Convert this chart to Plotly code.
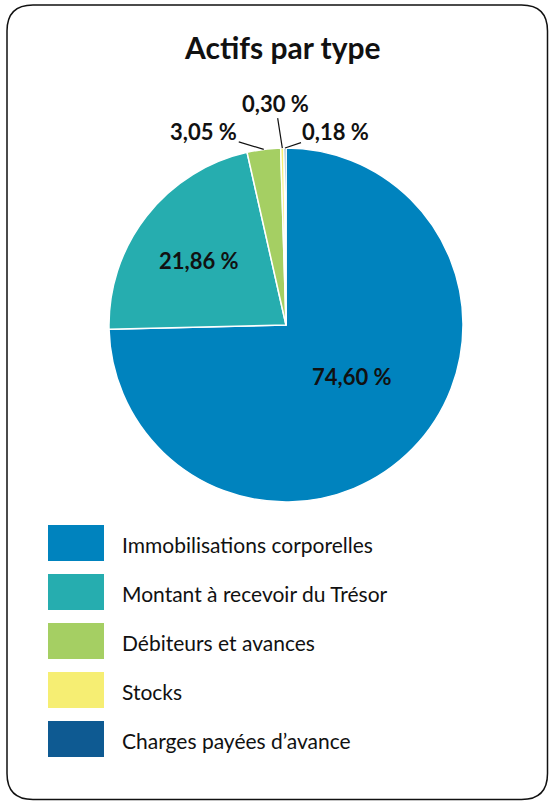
import math
import plotly.graph_objects as go

# ---- data ----
categories = ["Immobilisations corporelles", "Montant à recevoir du Trésor",
              "Débiteurs et avances", "Stocks", "Charges payées d’avance"]
values = [74.60, 21.86, 3.05, 0.30, 0.18]
value_labels = ["74,60 %", "21,86 %", "3,05 %", "0,30 %", "0,18 %"]
colors = ["#0083BE", "#26ADAF", "#A5CF63", "#F6EE73", "#0E5A92"]
title_text = "Actifs par type"

# ---- layout constants (pixels) ----
W, H = 549, 801
cx, cy, R = 286, 325, 177
FONT = "Lato"

def px(x):
    return x / W

def py(y):
    return 1 - y / H

fig = go.Figure()
fig.add_trace(go.Pie(
    labels=categories, values=values, sort=False, direction="clockwise",
    rotation=0, marker=dict(colors=colors, line=dict(color="white", width=1.5)),
    textinfo="none", hoverinfo="skip", showlegend=False,
    domain=dict(x=[px(cx - R), px(cx + R)], y=[py(cy + R), py(cy - R)]),
))

annotations = []
total = sum(values)
cum = 0.0
inside_r = [0.48, 0.61]
inside_shift = [(5, -8), (-2, 2)]
outside_off = [(-60, -18), (-7, -45), (51, -17)]
for i, v in enumerate(values):
    mid = (cum + v / 2) / total * 2 * math.pi
    cum += v
    if i < 2:
        r = inside_r[i] * R
        x = cx + r * math.sin(mid) + inside_shift[i][0]
        y = cy - r * math.cos(mid) + inside_shift[i][1]
        annotations.append(dict(x=px(x), y=py(y), xref="paper", yref="paper",
                                xanchor="center", yanchor="middle",
                                text=f"<b>{value_labels[i]}</b>", showarrow=False,
                                font=dict(family=FONT, size=22, color="#111")))
    else:
        x = cx + R * math.sin(mid)
        y = cy - R * math.cos(mid)
        ax, ay = outside_off[i - 2]
        annotations.append(dict(x=px(x), y=py(y), xref="paper", yref="paper",
                                ax=ax, ay=ay, text=f"<b>{value_labels[i]}</b>",
                                showarrow=True, arrowhead=0, arrowwidth=1.2,
                                arrowcolor="#111", standoff=0,
                                font=dict(family=FONT, size=22, color="#111")))

# title
annotations.append(dict(x=px(282), y=py(47), xref="paper", yref="paper",
                        xanchor="center", yanchor="middle",
                        text=f"<b>{title_text}</b>", showarrow=False,
                        font=dict(family=FONT, size=30, color="#111")))

shapes = []
# legend swatches + labels
sw_x0, sw_x1, sw_y0, sw_h, sw_step = 48, 104, 525, 36, 49
for i, (cat, col) in enumerate(zip(categories, colors)):
    y0 = sw_y0 + i * sw_step
    shapes.append(dict(type="rect", xref="paper", yref="paper",
                       x0=px(sw_x0), x1=px(sw_x1), y0=py(y0 + sw_h), y1=py(y0),
                       fillcolor=col, line=dict(width=0)))
    annotations.append(dict(x=px(120), y=py(y0 + sw_h / 2 + 1), xref="paper", yref="paper",
                            xanchor="left", yanchor="middle", text=cat, showarrow=False,
                            font=dict(family=FONT, size=21, color="#111")))

# rounded border
L, T, Rr, B, rad = 7, 5, 547.5, 799.5, 26
rx, ry = rad / W, rad / H
x0, x1, y0, y1 = px(L), px(Rr), py(B), py(T)
path = (f"M {x0 + rx} {y1} L {x1 - rx} {y1} Q {x1} {y1} {x1} {y1 - ry} "
        f"L {x1} {y0 + ry} Q {x1} {y0} {x1 - rx} {y0} "
        f"L {x0 + rx} {y0} Q {x0} {y0} {x0} {y0 + ry} "
        f"L {x0} {y1 - ry} Q {x0} {y1} {x0 + rx} {y1} Z")
shapes.append(dict(type="path", xref="paper", yref="paper", path=path,
                   line=dict(color="#111", width=1.5)))

fig.update_layout(width=W, height=H, margin=dict(l=0, r=0, t=0, b=0),
                  paper_bgcolor="white", plot_bgcolor="white",
                  annotations=annotations, shapes=shapes)
fig.write_html("out.html", config={"displayModeBar": False},
               post_script="document.body.style.margin='0';document.body.style.overflow='hidden';")
